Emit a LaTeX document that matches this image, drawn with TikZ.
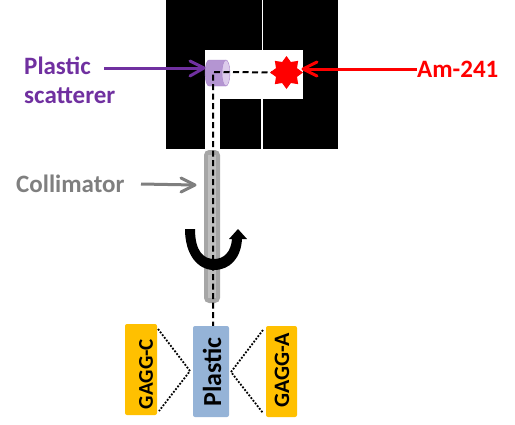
\documentclass[tikz,border=0pt]{standalone}
\usepackage{fontspec}
\setmainfont{Carlito}
\usepackage{xcolor}
\usetikzlibrary{shapes,arrows,positioning,calc}
\definecolor{scatpurple}{HTML}{7030A0}
\definecolor{scatbody}{HTML}{B495D2}
\definecolor{scatend}{HTML}{DCCBEB}
\definecolor{amred}{HTML}{FF0000}
\definecolor{collgray}{HTML}{A6A6A6}
\definecolor{collinner}{HTML}{BFBFBF}
\definecolor{labelgray}{HTML}{7F7F7F}
\definecolor{gaggyellow}{HTML}{FFC000}
\definecolor{plasticblue}{HTML}{95B3D7}

\begin{document}
\begin{tikzpicture}[
    x=1pt, y=-1pt,
    label/.style={font=\bfseries\fontsize{25}{25}\selectfont, inner sep=0pt},
    crystal/.style={rectangle, rounded corners=2pt, minimum height=91pt, inner sep=0pt},
    arrow/.style={line width=3pt},
    head/.style={line width=3pt, line cap=round, line join=round},
    beam/.style={line width=2pt, dash pattern=on 6pt off 3.5pt},
    link/.style={line width=1.8pt, dash pattern=on 1.8pt off 1.6pt}
]
    \useasboundingbox (0,0) rectangle (515,424);
    % lead blocks
    \fill[black] (166,0) rectangle (338,149);
    \fill[white] (205,50) rectangle (303,99);
    \fill[white] (205,99) rectangle (220,149);
    \fill[white] (261.5,0) rectangle (263,50);
    \fill[white] (261,99) rectangle (263,149);
    % collimator
    \fill[collgray, rounded corners=5pt] (204,150) rectangle (220,303);
    \fill[collinner] (208,155) rectangle (216,298);
    % source and scatterer
    \filldraw[draw=scatbody!80!scatpurple, fill=scatbody] (209,60) -- (226,60) -- (226,86) -- (209,86) arc[start angle=90, end angle=270, x radius=4, y radius=13] -- cycle;
    \filldraw[draw=scatbody!80!scatpurple, fill=scatend] (226,73) ellipse[x radius=4, y radius=13];
    \coordinate (sourcepos) at (286.5,72.5);
    \coordinate (corner) at (213,72);
    \coordinate (beamend) at (213,326);
    \draw[beam] (sourcepos) -- (corner) -- (beamend);
    \node[star, star points=8, star point ratio=1.45, fill=amred, minimum size=33pt, inner sep=0pt] (source) at (sourcepos) {};
    % labels
    \node[label, text=scatpurple, anchor=west] (plasticlabel) at (24,66) {Plastic};
    \node[label, text=scatpurple, anchor=west] (scatlabel) at (24,96) {scatterer};
    \node[label, text=amred, anchor=west] (amlabel) at (417,69) {Am-241};
    \node[label, text=labelgray, anchor=west] (colllabel) at (16,184) {Collimator};
    \coordinate (scatin) at (204,68);
    \coordinate (amin) at (303,69);
    \coordinate (collin) at (195,185);
    \coordinate (plasticout) at (104,68);
    \coordinate (collout) at (141,184);
    \draw[arrow, scatpurple] (plasticout) -- (scatin);
    \draw[head, scatpurple] (190,61) -- (scatin) -- (190,76);
    \draw[arrow, amred] (amlabel.west |- amin) -- (amin);
    \draw[head, amred] (317,62) -- (amin) -- (317,76);
    \draw[arrow, labelgray] (collout) -- (collin);
    \draw[head, labelgray] (181,178) -- (collin) -- (181,192);
    % rotation
    \fill[black] (185,229) .. controls (185,255) and (198,270) .. (214,270) .. controls (230,270) and (241,258) .. (242,239) -- (247,239) -- (238,229) -- (229,239) -- (232,239) .. controls (231,252) and (224,259) .. (214,259) .. controls (204,259) and (195,252) .. (195,229) -- cycle;
    % detectors
    \node[crystal, fill=gaggyellow, minimum width=32pt] (gaggc) at (141,369.5) {};
    \node[font=\bfseries\fontsize{21}{21}\selectfont, rotate=90] (gaggctext) at (146,374) {GAGG-C};
    \node[crystal, fill=plasticblue, minimum width=36pt] (plastic) at (211,371.5) {};
    \node[font=\bfseries\fontsize{26}{26}\selectfont, rotate=90, inner sep=0pt] (plastictext) at (212,372) {Plastic};
    \node[crystal, fill=gaggyellow, minimum width=31pt] (gagga) at (281.5,371.5) {};
    \node[font=\bfseries\fontsize{22}{22}\selectfont, rotate=90] (gaggatext) at (282,370) {GAGG-A};
    \coordinate (leftmid) at (190,371);
    \coordinate (rightmid) at (231,372);
    \draw[link] (158,329) -- (leftmid) -- (159,411);
    \draw[link] (263,330) -- (rightmid) -- (263,413);
\end{tikzpicture}
\end{document}
